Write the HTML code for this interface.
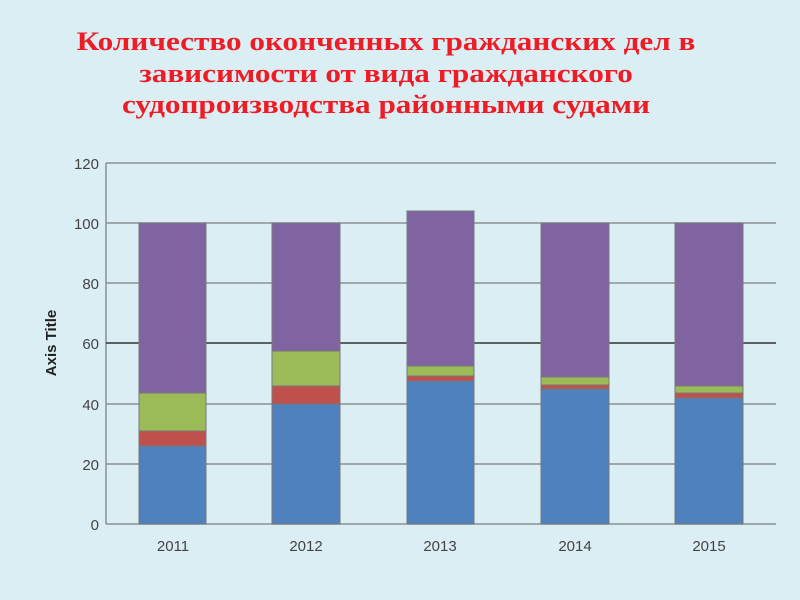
<!DOCTYPE html>
<html><head><meta charset="utf-8"><style>
body{margin:0;width:800px;height:600px;background:#dbeef4;overflow:hidden}
.t{position:absolute;left:0;width:772px;text-align:center;top:26px;font:bold 26px/31.5px "Liberation Serif","Noto Serif CJK SC",serif;color:#ee1c25;transform:scaleX(1.2);transform-origin:386px 0}
</style></head><body>
<div class="t">Количество оконченных гражданских дел в<br>зависимости от вида гражданского<br>судопроизводства районными судами</div>
<svg width="800" height="600" style="position:absolute;left:0;top:0" font-family="Liberation Sans, DejaVu Sans, sans-serif">
<g stroke="#8a8f92" stroke-width="1.5">
<line x1="106" y1="163" x2="776" y2="163"/>
<line x1="106" y1="223" x2="776" y2="223"/>
<line x1="106" y1="283" x2="776" y2="283"/>
<line x1="106" y1="404" x2="776" y2="404"/>
<line x1="106" y1="464" x2="776" y2="464"/>
<line x1="106" y1="524" x2="776" y2="524"/>
<line x1="106" y1="163" x2="106" y2="524"/>
</g>
<line x1="106" y1="343" x2="776" y2="343" stroke="#333" stroke-width="1.5"/>
<g stroke="#777" stroke-width="1">
<rect x="139" y="446" width="67" height="78" fill="#4f81bd"/>
<rect x="139" y="431" width="67" height="15" fill="#c0504d"/>
<rect x="139" y="393" width="67" height="38" fill="#9bbb59"/>
<rect x="139" y="223" width="67" height="170" fill="#8064a2"/>
<rect x="272" y="404" width="68" height="120" fill="#4f81bd"/>
<rect x="272" y="386" width="68" height="18" fill="#c0504d"/>
<rect x="272" y="351" width="68" height="35" fill="#9bbb59"/>
<rect x="272" y="223" width="68" height="128" fill="#8064a2"/>
<rect x="407" y="381" width="67" height="143" fill="#4f81bd"/>
<rect x="407" y="376" width="67" height="5" fill="#c0504d"/>
<rect x="407" y="366" width="67" height="10" fill="#9bbb59"/>
<rect x="407" y="211" width="67" height="155" fill="#8064a2"/>
<rect x="541" y="389" width="68" height="135" fill="#4f81bd"/>
<rect x="541" y="385" width="68" height="4" fill="#c0504d"/>
<rect x="541" y="377" width="68" height="8" fill="#9bbb59"/>
<rect x="541" y="223" width="68" height="154" fill="#8064a2"/>
<rect x="675" y="398" width="68" height="126" fill="#4f81bd"/>
<rect x="675" y="393" width="68" height="5" fill="#c0504d"/>
<rect x="675" y="386" width="68" height="7" fill="#9bbb59"/>
<rect x="675" y="223" width="68" height="163" fill="#8064a2"/>
</g>
<g font-size="15" fill="#444" text-anchor="end">
<text x="99" y="169">120</text><text x="99" y="229">100</text><text x="99" y="289">80</text>
<text x="99" y="349">60</text><text x="99" y="410">40</text><text x="99" y="470">20</text><text x="99" y="530">0</text>
</g>
<g font-size="15" fill="#444" text-anchor="middle">
<text x="173" y="551">2011</text><text x="306" y="551">2012</text><text x="440" y="551">2013</text>
<text x="575" y="551">2014</text><text x="709" y="551">2015</text>
</g>
<text transform="translate(56,343) rotate(-90)" text-anchor="middle" font-size="15" font-weight="bold" fill="#222">Axis Title</text>
</svg>
</body></html>
